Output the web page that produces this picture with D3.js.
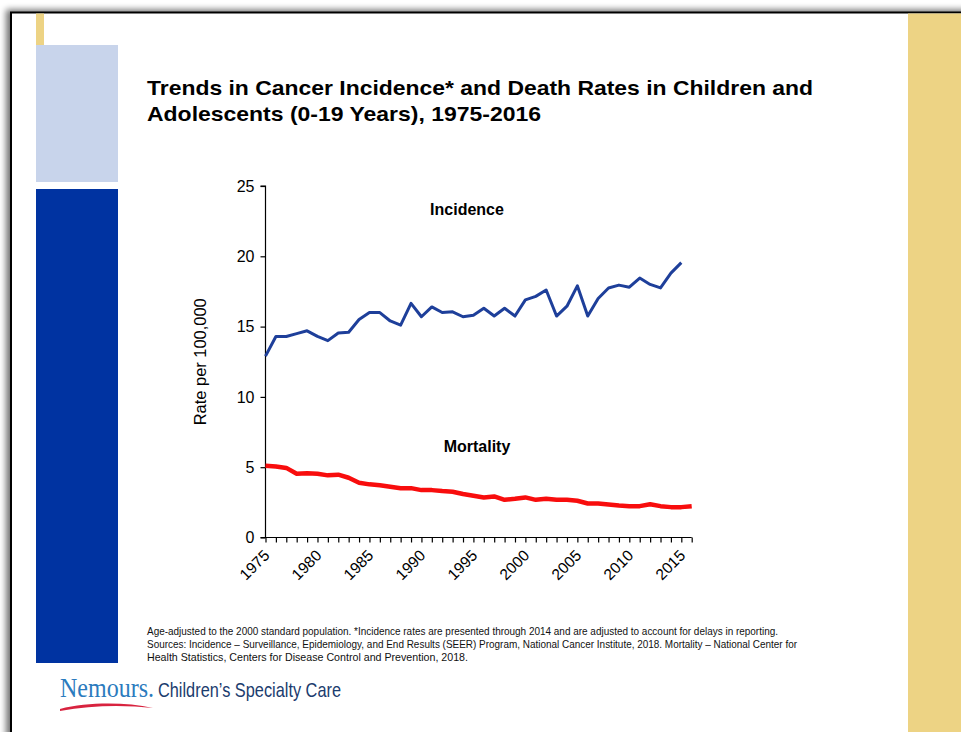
<!DOCTYPE html>
<html>
<head>
<meta charset="utf-8">
<script src="https://cdn.jsdelivr.net/npm/d3@7"></script>
<style>
  html, body { margin: 0; padding: 0; background: #ffffff; }
  svg { display: block; }
</style>
</head>
<body>
<svg id="chart" width="961" height="732"></svg>
<script>
// Years on the x axis (1975-2016)
const years = d3.range(1975, 2017);

// Cancer incidence per 100,000 children and adolescents, 1975-2015
const incidence = [
  12.9, 14.3, 14.3, 14.5, 14.7, 14.3, 14.0, 14.55, 14.6, 15.5,
  16.0, 16.0, 15.4, 15.1, 16.65, 15.7, 16.4, 16.0, 16.05, 15.7,
  15.8, 16.3, 15.75, 16.3, 15.75, 16.9, 17.15, 17.6, 15.75, 16.45,
  17.9, 15.75, 17.0, 17.75, 17.95, 17.8, 18.45, 18.0, 17.75, 18.8,
  19.55
];

// Cancer mortality per 100,000 children and adolescents, 1975-2016
const mortality = [
  5.1, 5.05, 4.95, 4.54, 4.57, 4.54, 4.42, 4.47, 4.25, 3.9,
  3.78, 3.71, 3.61, 3.51, 3.51, 3.37, 3.37, 3.3, 3.25, 3.09,
  2.97, 2.85, 2.92, 2.68, 2.75, 2.85, 2.68, 2.75, 2.68, 2.68,
  2.61, 2.42, 2.42, 2.35, 2.28, 2.23, 2.23, 2.37, 2.23, 2.16,
  2.16, 2.23
];

const yTicks = [0, 5, 10, 15, 20, 25];
const xTickLabels = [1975, 1980, 1985, 1990, 1995, 2000, 2005, 2010, 2015];

const titleLines = [
  "Trends in Cancer Incidence* and Death Rates in Children and",
  "Adolescents (0-19 Years), 1975-2016"
];
const footnoteLines = [
  "Age-adjusted to the 2000 standard population. *Incidence rates are presented through 2014 and are adjusted to account for delays in reporting.",
  "Sources: Incidence \u2013 Surveillance, Epidemiology, and End Results (SEER) Program, National Cancer Institute, 2018. Mortality \u2013 National Center for",
  "Health Statistics, Centers for Disease Control and Prevention, 2018."
];

const svg = d3.select("#chart");
const sans = "'Liberation Sans', Arial, Helvetica, sans-serif";
const narrow = "'Liberation Sans Narrow', 'Arial Narrow', 'Liberation Sans', Arial, sans-serif";

// ---- slide frame with soft shadow ----
const defs = svg.append("defs");
const shadow = defs.append("filter").attr("id", "shadow")
  .attr("x", "-5%").attr("y", "-5%").attr("width", "110%").attr("height", "110%");
shadow.append("feGaussianBlur").attr("in", "SourceAlpha").attr("stdDeviation", 3).attr("result", "b");
shadow.append("feOffset").attr("in", "b").attr("dx", -4).attr("dy", -2).attr("result", "o");
shadow.append("feComponentTransfer").attr("in", "o").attr("result", "s")
  .append("feFuncA").attr("type", "linear").attr("slope", 0.55);
const merge = shadow.append("feMerge");
merge.append("feMergeNode").attr("in", "s");
merge.append("feMergeNode").attr("in", "SourceGraphic");

svg.append("rect")
  .attr("x", 11).attr("y", 12.5).attr("width", 1000).attr("height", 800)
  .attr("fill", "#ffffff").attr("stroke", "#000000").attr("stroke-width", 2)
  .attr("filter", "url(#shadow)");

// decorative bands
svg.append("rect").attr("x", 908).attr("y", 13.5).attr("width", 53).attr("height", 720).attr("fill", "#EDD384");
svg.append("rect").attr("x", 36).attr("y", 13.5).attr("width", 8).attr("height", 32).attr("fill", "#EDD384");
svg.append("rect").attr("x", 36).attr("y", 45).attr("width", 82).attr("height", 137).attr("fill", "#C8D4EB");
svg.append("rect").attr("x", 36).attr("y", 189).attr("width", 82).attr("height", 474).attr("fill", "#0033A1");

// ---- title ----
const titleLengths = [666, 394];
svg.append("g").selectAll("text").data(titleLines).join("text")
  .attr("x", 147).attr("y", (d, i) => 95 + i * 26)
  .attr("font-family", sans).attr("font-weight", "bold").attr("font-size", 21)
  .attr("fill", "#000000")
  .attr("textLength", (d, i) => titleLengths[i]).attr("lengthAdjust", "spacingAndGlyphs")
  .text(d => d);

// ---- scales ----
const x = d3.scaleLinear().domain([1975, 2016]).range([265.5, 691.7]);
const y = d3.scaleLinear().domain([0, 25]).range([537.5, 186]);

// y axis
const yAxis = svg.append("g").attr("transform", `translate(${x(1975)},0)`)
  .call(d3.axisLeft(y).tickValues(yTicks).tickSize(5).tickPadding(6).tickFormat(d3.format("d")));
yAxis.selectAll("path, line").attr("stroke", "#000000").attr("stroke-width", 1.2);
yAxis.select(".domain").attr("d", `M-5,${y(25)}H0V${y(0)}`);
yAxis.selectAll("text").attr("font-family", sans).attr("font-size", 16).attr("fill", "#000000");

// x axis: a tick every year, labels every five years
const xAxis = svg.append("g").attr("transform", `translate(0,${y(0)})`)
  .call(d3.axisBottom(x).tickValues(years).tickSize(5).tickFormat(() => ""));
xAxis.select(".domain").attr("d", `M${x(1975) - 5},0H${x(2016)}`);
xAxis.selectAll("path, line").attr("stroke", "#000000").attr("stroke-width", 1.2);

svg.append("g").selectAll("text").data(xTickLabels).join("text")
  .attr("transform", d => `translate(${x(d) + 5},${y(0) + 19}) rotate(-45)`)
  .attr("text-anchor", "end")
  .attr("font-family", sans).attr("font-size", 15.5).attr("fill", "#000000")
  .text(d => d);

// y axis title
svg.append("text")
  .attr("transform", `translate(206,${(y(0) + y(25)) / 2}) rotate(-90)`)
  .attr("text-anchor", "middle")
  .attr("font-family", sans).attr("font-size", 16).attr("fill", "#000000")
  .attr("textLength", 127).attr("lengthAdjust", "spacingAndGlyphs")
  .text("Rate per 100,000");

// ---- lines ----
const line = d3.line().x(d => x(d.year)).y(d => y(d.value));

svg.append("path")
  .datum(incidence.map((v, i) => ({ year: years[i], value: v })))
  .attr("fill", "none").attr("stroke", "#1E3F9A").attr("stroke-width", 3)
  .attr("stroke-linejoin", "round")
  .attr("d", line);

svg.append("path")
  .datum(mortality.map((v, i) => ({ year: years[i], value: v })))
  .attr("fill", "none").attr("stroke", "#F80D0D").attr("stroke-width", 4.5)
  .attr("stroke-linejoin", "round")
  .attr("d", line);

// series labels
svg.append("text").attr("x", 467).attr("y", 215).attr("text-anchor", "middle")
  .attr("font-family", sans).attr("font-weight", "bold").attr("font-size", 16)
  .text("Incidence");
svg.append("text").attr("x", 477).attr("y", 452).attr("text-anchor", "middle")
  .attr("font-family", sans).attr("font-weight", "bold").attr("font-size", 16)
  .text("Mortality");

// ---- footnote ----
const footLengths = [631, 650, 321];
svg.append("g").selectAll("text").data(footnoteLines).join("text")
  .attr("x", 147).attr("y", (d, i) => 635 + i * 13)
  .attr("font-family", narrow).attr("font-size", 11.5).attr("fill", "#111111")
  .attr("textLength", (d, i) => footLengths[i]).attr("lengthAdjust", "spacingAndGlyphs")
  .text(d => d);

// ---- logo ----
svg.append("path")
  .attr("d", "M60,709 C88,702 125,702 153,708 C125,705 92,705 60,711 Z")
  .attr("fill", "#D8233F");
svg.append("text").attr("x", 60).attr("y", 697)
  .attr("font-family", "'Liberation Serif', 'Times New Roman', serif").attr("font-size", 28)
  .attr("fill", "#2B7BBE")
  .attr("textLength", 94).attr("lengthAdjust", "spacingAndGlyphs")
  .text("Nemours.");
svg.append("text").attr("x", 158).attr("y", 697)
  .attr("font-family", narrow).attr("font-size", 21)
  .attr("fill", "#1B3C6E")
  .attr("textLength", 183).attr("lengthAdjust", "spacingAndGlyphs")
  .text("Children\u2019s Specialty Care");
</script>
</body>
</html>
